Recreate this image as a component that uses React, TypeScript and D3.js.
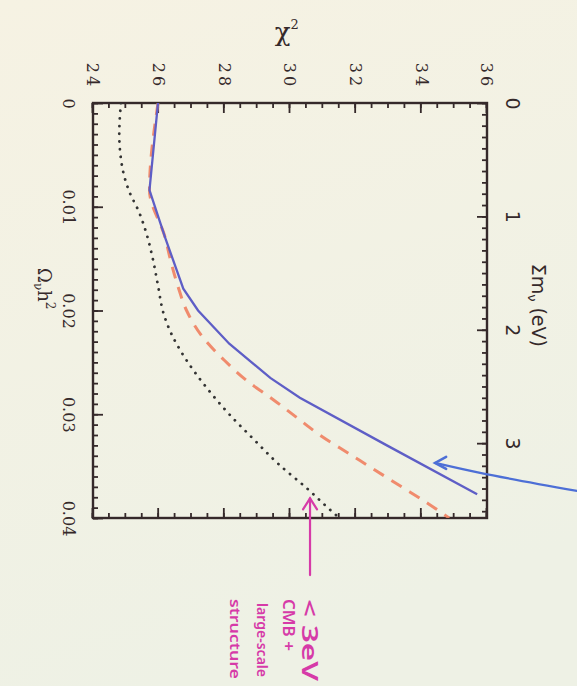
import React, { useEffect, useRef } from 'react';
import * as d3 from 'd3';

// axis ticks
const omegaTicks = [0, 0.01, 0.02, 0.03, 0.04];
const chiTicks = [24, 26, 28, 30, 32, 34, 36];
const massTicks = [0, 1, 2, 3];
const EV_PER_OMEGA = 91.5; // sum m_nu = 91.5 eV * Omega_nu h^2

// solid (blue) curve
const solidOmega = [0, 0.0084, 0.013, 0.0179, 0.02, 0.0232, 0.0265, 0.0284, 0.033, 0.0377];
const solidChi = [25.98, 25.72, 26.2, 26.75, 27.2, 28.15, 29.4, 30.3, 32.95, 35.7];

// dashed (red) curve
const dashedOmega = [0, 0.0084, 0.013, 0.015, 0.0178, 0.02, 0.0226, 0.0248, 0.0268, 0.0285, 0.0303, 0.0321, 0.0338, 0.0352, 0.0369, 0.0386, 0.04];
const dashedChi = [25.98, 25.72, 26.2, 26.35, 26.6, 26.85, 27.35, 28.0, 28.7, 29.45, 30.2, 30.95, 31.8, 32.5, 33.35, 34.2, 34.85];

// dotted (black) curve
const dottedOmega = [0, 0.003, 0.006, 0.0085, 0.0105, 0.0125, 0.015, 0.0176, 0.0203, 0.0222, 0.0248, 0.0274, 0.03, 0.0326, 0.0348, 0.0371, 0.039, 0.04];
const dottedChi = [24.85, 24.8, 24.88, 25.1, 25.4, 25.62, 25.82, 25.98, 26.15, 26.38, 26.85, 27.45, 28.15, 28.95, 29.65, 30.5, 31.15, 31.5];

// handwritten notes (omega, chi2 of text start)
const noteTexts = ['< 3eV', 'CMB +', 'large-scale', 'structure'];
const noteOmega = [0.0478, 0.0478, 0.0482, 0.0478];
const noteChi = [30.64, 29.97, 29.18, 28.36];
const noteLength = [82, 52, 74, 80];
const noteSize = [22, 16, 15, 15];

// arrows
const pinkArrowOmega = [0.0381, 0.0455];
const pinkArrowChi = [30.61, 30.61];
const blueArrowOmega = [0.03469, 0.03565, 0.03739];
const blueArrowChi = [34.42, 35.79, 38.74];

const Chart: React.FC = () => {
    const svgRef = useRef<SVGSVGElement | null>(null);

    useEffect(() => {
        const svg = d3.select(svgRef.current);
        svg.selectAll('*').remove();

        const plotLeft = 93, plotRight = 487, plotTop = 103, plotBottom = 518;
        const W = plotBottom - plotTop; // omega runs along this
        const H = plotRight - plotLeft; // chi2 runs along this
        const ink = '#35292a';

        const bg = svg.append('defs').append('linearGradient')
            .attr('id', 'paper').attr('x1', 0).attr('y1', 0).attr('x2', 0.3).attr('y2', 1);
        bg.append('stop').attr('offset', '0%').attr('stop-color', '#f6f2e3');
        bg.append('stop').attr('offset', '100%').attr('stop-color', '#eef1e5');
        svg.append('rect').attr('width', 577).attr('height', 686).attr('fill', 'url(#paper)');

        svg.select('defs').append('clipPath').attr('id', 'box')
            .append('rect').attr('width', W).attr('height', H);

        // whole figure is drawn upright and turned a quarter clockwise
        const g = svg.append('g')
            .attr('transform', `translate(${plotRight},${plotTop}) rotate(90)`);

        const x = d3.scaleLinear().domain([0, 0.04]).range([0, W]);
        const y = d3.scaleLinear().domain([24, 36]).range([H, 0]);
        const m = d3.scaleLinear().domain([0, 0.04 * EV_PER_OMEGA]).range([0, W]);

        const style = (sel: d3.Selection<SVGGElement, unknown, null, undefined>) => {
            sel.attr('color', ink).attr('font-family', null).attr('font-size', null);
            sel.select('.domain').remove();
            sel.selectAll('line').attr('stroke-width', 1.8);
        };

        // bottom: omega h^2
        g.append('g').attr('transform', `translate(0,${H})`)
            .call(d3.axisBottom(x).tickValues(d3.range(0, 0.0401, 0.001)).tickSize(-5).tickFormat(() => ''))
            .call(style);
        const xb = g.append('g').attr('transform', `translate(0,${H})`)
            .call(d3.axisBottom(x).tickValues(omegaTicks).tickSize(-10).tickPadding(19)
                .tickFormat((d) => (+d === 0 ? '0' : (+d).toFixed(2))))
            .call(style);
        xb.selectAll('text').attr('font-family', 'DejaVu Serif').attr('font-size', 16).attr('fill', ink);

        // top: sum of neutrino masses
        g.append('g')
            .call(d3.axisTop(m).tickValues(d3.range(0, 3.61, 0.1)).tickSize(-5).tickFormat(() => ''))
            .call(style);
        const xt = g.append('g')
            .call(d3.axisTop(m).tickValues(massTicks).tickSize(-10).tickPadding(19).tickFormat((d) => String(d)))
            .call(style);
        xt.selectAll('text').attr('font-family', 'DejaVu Sans').attr('font-size', 19).attr('fill', ink);

        // left: chi2
        g.append('g')
            .call(d3.axisLeft(y).tickValues(d3.range(24, 36.01, 0.5)).tickSize(-5).tickFormat(() => ''))
            .call(style);
        const yl = g.append('g')
            .call(d3.axisLeft(y).tickValues(chiTicks).tickSize(-10).tickFormat((d) => String(d)))
            .call(style);
        yl.selectAll('text').attr('font-family', 'DejaVu Serif').attr('font-size', 16)
            .attr('letter-spacing', 3).attr('text-anchor', 'middle').attr('x', -27).attr('fill', ink);

        // right: mirror of chi2
        g.append('g').attr('transform', `translate(${W},0)`)
            .call(d3.axisRight(y).tickValues(d3.range(24, 36.01, 0.5)).tickSize(-5).tickFormat(() => ''))
            .call(style);
        g.append('g').attr('transform', `translate(${W},0)`)
            .call(d3.axisRight(y).tickValues(chiTicks).tickSize(-10).tickFormat(() => ''))
            .call(style);

        g.append('rect').attr('width', W).attr('height', H)
            .attr('fill', 'none').attr('stroke', ink).attr('stroke-width', 2.4);

        // axis titles
        const tx = g.append('text').attr('x', x(0.0179)).attr('y', H + 55)
            .attr('text-anchor', 'middle').attr('font-family', 'DejaVu Serif').attr('font-size', 18).attr('fill', ink);
        tx.append('tspan').text('Ω');
        tx.append('tspan').attr('dy', 4).attr('font-size', 12).text('ν');
        tx.append('tspan').attr('dy', -4).text('h');
        tx.append('tspan').attr('dy', -8).attr('font-size', 12).text('2');

        const tm = g.append('text').attr('x', x(0.0195)).attr('y', -45)
            .attr('text-anchor', 'middle').attr('font-family', 'DejaVu Sans').attr('font-size', 19).attr('fill', ink);
        tm.append('tspan').text('Σm');
        tm.append('tspan').attr('dy', 4).attr('font-size', 13).text('ν');
        tm.append('tspan').attr('dy', -4).text(' (eV)');

        const tc = g.append('text').attr('transform', `translate(-62,${y(29.9)}) rotate(-90)`)
            .attr('text-anchor', 'middle').attr('font-family', 'DejaVu Serif').attr('font-size', 26).attr('fill', ink);
        tc.append('tspan').text('χ');
        tc.append('tspan').attr('dy', -12).attr('font-size', 13).text('2');

        // curves
        const line = d3.line<[number, number]>().x((d) => x(d[0])).y((d) => y(d[1]));
        const smooth = d3.line<[number, number]>().x((d) => x(d[0])).y((d) => y(d[1])).curve(d3.curveMonotoneX);
        const plot = g.append('g').attr('clip-path', 'url(#box)');

        plot.append('path').datum(d3.zip(dottedOmega, dottedChi) as [number, number][])
            .attr('d', smooth).attr('fill', 'none').attr('stroke', '#333')
            .attr('stroke-width', 2.8).attr('stroke-linecap', 'round').attr('stroke-dasharray', '0.1 7.6');
        plot.append('path').datum(d3.zip(dashedOmega, dashedChi) as [number, number][])
            .attr('d', smooth).attr('fill', 'none').attr('stroke', '#f0805f').attr('stroke-opacity', 0.9)
            .attr('stroke-width', 3).attr('stroke-dasharray', '12 9');
        plot.append('path').datum(d3.zip(solidOmega, solidChi) as [number, number][])
            .attr('d', line).attr('fill', 'none').attr('stroke', '#5e5ec6').attr('stroke-width', 2.3);

        // handwritten notes
        const pink = '#d63aa8';
        const pa = d3.zip(pinkArrowOmega, pinkArrowChi) as [number, number][];
        g.append('path').datum(pa).attr('d', line).attr('fill', 'none')
            .attr('stroke', pink).attr('stroke-width', 2.2).attr('stroke-linecap', 'round');
        const [p0x, p0y] = [x(pa[0][0]), y(pa[0][1])];
        g.append('path').attr('d', `M${p0x + 11},${p0y - 7}L${p0x},${p0y}L${p0x + 11},${p0y + 7}`)
            .attr('fill', 'none').attr('stroke', pink).attr('stroke-width', 2.2).attr('stroke-linecap', 'round');

        noteTexts.forEach((t, i) => {
            g.append('text').attr('x', x(noteOmega[i])).attr('y', y(noteChi[i]))
                .attr('dominant-baseline', 'central').attr('font-family', 'Noto Sans').attr('font-weight', 600)
                .attr('font-size', noteSize[i]).attr('fill', pink)
                .attr('textLength', noteLength[i]).attr('lengthAdjust', 'spacingAndGlyphs').text(t);
        });

        const blue = '#4d6fd6';
        const ba = d3.zip(blueArrowOmega, blueArrowChi) as [number, number][];
        g.append('path').datum(ba).attr('d', smooth.curve(d3.curveCatmullRom)).attr('fill', 'none')
            .attr('stroke', blue).attr('stroke-width', 2.2).attr('stroke-linecap', 'round');
        const [b0x, b0y] = [x(ba[0][0]), y(ba[0][1])];
        g.append('path').attr('d', `M${b0x - 6},${b0y - 11}L${b0x},${b0y}L${b0x + 6},${b0y - 11}`)
            .attr('fill', 'none').attr('stroke', blue).attr('stroke-width', 2.6).attr('stroke-linecap', 'round');
    }, []);

    return <svg ref={svgRef} width={577} height={686} style={{ position: 'absolute', left: 0, top: 0 }}></svg>;
};

export default function App() {
    return <Chart />;
}
